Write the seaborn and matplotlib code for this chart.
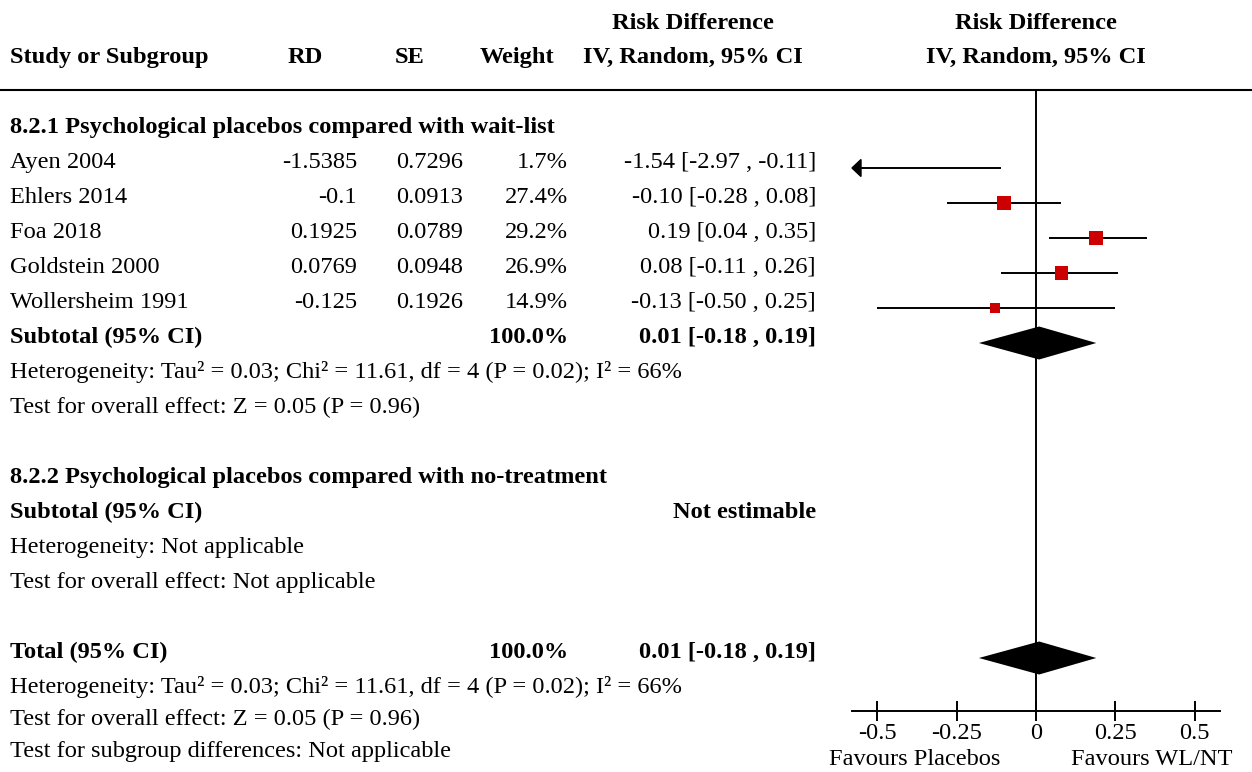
import numpy as np
import pandas as pd
import matplotlib
matplotlib.use("Agg")
import matplotlib.pyplot as plt
from matplotlib.lines import Line2D
import seaborn as sns

# ---- study-level data -------------------------------------------------------
studies = ["Ayen 2004", "Ehlers 2014", "Foa 2018", "Goldstein 2000", "Wollersheim 1991"]
rd = [-1.5385, -0.1, 0.1925, 0.0769, -0.125]
se = [0.7296, 0.0913, 0.0789, 0.0948, 0.1926]
weight = [1.7, 27.4, 29.2, 26.9, 14.9]
ci_est = [-1.54, -0.10, 0.19, 0.08, -0.13]
ci_lo = [-2.97, -0.28, 0.04, -0.11, -0.50]
ci_hi = [-0.11, 0.08, 0.35, 0.26, 0.25]

# ---- pooled estimates -------------------------------------------------------
pooled_est = 0.01
pooled_lo = -0.18
pooled_hi = 0.19
pooled_weight = 100.0

het_text = "Heterogeneity: Tau² = 0.03; Chi² = 11.61, df = 4 (P = 0.02); I² = 66%"
effect_text = "Test for overall effect: Z = 0.05 (P = 0.96)"

tick_values = [-0.5, -0.25, 0, 0.25, 0.5]
tick_labels = ["-0.5", "-0.25", "0", "0.25", "0.5"]
favours_left = "Favours Placebos"
favours_right = "Favours WL/NT"

# ---- figure setup -----------------------------------------------------------
W, H = 1252, 772
sns.set_theme(style="white")
plt.rcParams["font.family"] = ["Liberation Serif", "DejaVu Serif"]
plt.rcParams["axes.unicode_minus"] = False
FS = 17.6

fig = plt.figure(figsize=(W / 100, H / 100), dpi=100)
fig.patch.set_facecolor("white")


def fx(x):
    return x / W


def fy(y):
    return 1 - y / H


def put(x, y, s, ha="left", bold=False):
    fig.text(fx(x), fy(y), s, ha=ha, va="baseline", fontsize=FS,
             fontweight="bold" if bold else "normal", color="black")


# column anchors (pixels)
X_NAME = 10
X_RD, X_SE, X_W, X_CI = 357, 463, 568, 816
PLOT_L, PLOT_R, PLOT_T, PLOT_B = 852, 1220, 90, 711

# row baselines (pixels)
ROW_HEAD1 = 133
study_rows = [168, 203, 238, 273, 308]
ROW_SUB1, ROW_HET1, ROW_EFF1 = 343, 378, 413
ROW_HEAD2 = 483
ROW_SUB2, ROW_HET2, ROW_EFF2 = 518, 553, 588
ROW_TOT, ROW_HETT, ROW_EFFT, ROW_SUBG = 658, 693, 725, 757

# ---- column headers ---------------------------------------------------------
put(693, 29, "Risk Difference", ha="center", bold=True)
put(1036, 29, "Risk Difference", ha="center", bold=True)
put(X_NAME, 63, "Study or Subgroup", bold=True)
put(305, 63, "RD", ha="center", bold=True)
put(410, 63, "SE", ha="center", bold=True)
put(517, 63, "Weight", ha="center", bold=True)
put(693, 63, "IV, Random, 95% CI", ha="center", bold=True)
put(1036, 63, "IV, Random, 95% CI", ha="center", bold=True)
fig.add_artist(Line2D([0, 1], [fy(90), fy(90)], transform=fig.transFigure,
                      color="black", lw=1.5))

# ---- table text -------------------------------------------------------------
put(X_NAME, ROW_HEAD1, "8.2.1 Psychological placebos compared with wait-list", bold=True)
for name, r, s, w, e, lo, hi, y in zip(studies, rd, se, weight, ci_est, ci_lo, ci_hi, study_rows):
    put(X_NAME, y, name)
    put(X_RD, y, str(r), ha="right")
    put(X_SE, y, str(s), ha="right")
    put(X_W, y, f"{w:.1f}%", ha="right")
    put(X_CI, y, f"{e:.2f} [{lo:.2f} , {hi:.2f}]", ha="right")

pooled_label = f"{pooled_est:.2f} [{pooled_lo:.2f} , {pooled_hi:.2f}]"
put(X_NAME, ROW_SUB1, "Subtotal (95% CI)", bold=True)
put(X_W, ROW_SUB1, f"{pooled_weight:.1f}%", ha="right", bold=True)
put(X_CI, ROW_SUB1, pooled_label, ha="right", bold=True)
put(X_NAME, ROW_HET1, het_text)
put(X_NAME, ROW_EFF1, effect_text)

put(X_NAME, ROW_HEAD2, "8.2.2 Psychological placebos compared with no-treatment", bold=True)
put(X_NAME, ROW_SUB2, "Subtotal (95% CI)", bold=True)
put(X_CI, ROW_SUB2, "Not estimable", ha="right", bold=True)
put(X_NAME, ROW_HET2, "Heterogeneity: Not applicable")
put(X_NAME, ROW_EFF2, "Test for overall effect: Not applicable")

put(X_NAME, ROW_TOT, "Total (95% CI)", bold=True)
put(X_W, ROW_TOT, f"{pooled_weight:.1f}%", ha="right", bold=True)
put(X_CI, ROW_TOT, pooled_label, ha="right", bold=True)
put(X_NAME, ROW_HETT, het_text)
put(X_NAME, ROW_EFFT, effect_text)
put(X_NAME, ROW_SUBG, "Test for subgroup differences: Not applicable")

# ---- forest plot axes (y in pixel rows, x in risk difference) ---------------
ax = fig.add_axes([fx(PLOT_L), fy(PLOT_B), (PLOT_R - PLOT_L) / W, (PLOT_B - PLOT_T) / H])
ax.set_facecolor("none")
XMIN, XMAX = -0.58, 0.58
ax.set_xlim(XMIN, XMAX)
ax.set_ylim(PLOT_B, PLOT_T)

df = pd.DataFrame({"study": studies, "est": ci_est, "lo": ci_lo, "hi": ci_hi,
                   "weight": weight, "y": study_rows})

ax.axvline(0, color="black", lw=1.4, zorder=1)
ax.hlines(df["y"], df["lo"], df["hi"], color="black", lw=1.4, zorder=2)

# arrowheads where the interval runs past the axis
px = (XMAX - XMIN) / (PLOT_R - PLOT_L)
for _, row in df.iterrows():
    if row["lo"] < XMIN:
        ax.fill([XMIN, XMIN + 9 * px, XMIN + 9 * px],
                [row["y"], row["y"] - 8.5, row["y"] + 8.5],
                color="black", clip_on=False, zorder=3)
    if row["hi"] > XMAX:
        ax.fill([XMAX, XMAX - 9 * px, XMAX - 9 * px],
                [row["y"], row["y"] - 8.5, row["y"] + 8.5],
                color="black", clip_on=False, zorder=3)

# weight-scaled squares (area proportional to weight)
sns.scatterplot(data=df, x="est", y="y", size="weight", sizes=(0, 348),
                size_norm=(0, 100), marker="s", color="#cc0000",
                linewidth=0, legend=False, ax=ax, zorder=4)

# pooled diamonds
for yc in (ROW_SUB1, ROW_TOT):
    ax.fill([pooled_lo, pooled_est, pooled_hi, pooled_est],
            [yc, yc - 16.5, yc, yc + 16.5], color="black", lw=0, zorder=4)

for side in ("top", "left", "right"):
    ax.spines[side].set_visible(False)
ax.spines["bottom"].set_color("black")
ax.spines["bottom"].set_linewidth(1.4)
ax.set_yticks([])
ax.set_xticks(tick_values)
ax.set_xticklabels(tick_labels)
ax.tick_params(axis="x", direction="inout", length=14, width=1.4,
               labelsize=FS, pad=1.5, colors="black", bottom=True)
ax.set_xlabel("")
ax.set_ylabel("")

put(915, 765, favours_left, ha="center")
put(1152, 765, favours_right, ha="center")

fig.savefig("out.png", dpi=100, facecolor="white")
